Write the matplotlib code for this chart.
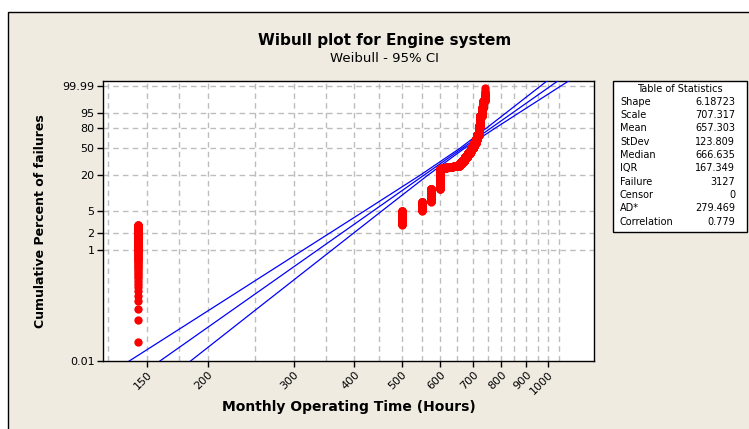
import numpy as np
import matplotlib
matplotlib.use("Agg")
import matplotlib.pyplot as plt
from matplotlib.patches import Rectangle

# ---------------- data ----------------
fail_times = [144, 500, 550, 575, 600, 605, 610, 615, 620, 625, 630, 635, 640, 645,
              650, 655, 660, 665, 670, 675, 680, 685, 690, 695, 700, 705, 710, 715,
              720, 725, 730, 735, 740]
fail_counts = [88, 68, 69, 150, 407, 25, 19, 6, 6, 9, 7, 6, 6, 6,
               10, 25, 62, 63, 78, 78, 78, 79, 93, 110, 109, 157, 172, 203,
               375, 344, 141, 56, 22]

shape = 6.18723
scale = 707.317

# 95% CI bands (percent, lower time, upper time)
ci_percent = [0.001, 0.01, 0.1, 1, 5, 20, 50, 80, 99.99, 99.9999]
ci_lower = [91.6, 138.1, 208.3, 314.1, 420.1, 545.3, 659.5, 748.0, 965.1, 1023.0]
ci_upper = [132.2, 184.5, 257.5, 359.9, 456.0, 565.3, 673.8, 780.0, 1062.4, 1142.0]

xtick_vals = [150, 200, 300, 400, 500, 600, 700, 800, 900, 1000]
xgrid_vals = [125, 150, 175, 200, 250, 300, 350, 400, 450, 500, 550, 600, 650,
              700, 750, 800, 850, 900, 950, 1000, 1050]
ytick_vals = [0.01, 1, 2, 5, 20, 50, 80, 95, 99.99]
ytick_labels = ["0.01", "1", "2", "5", "20", "50", "80", "95", "99.99"]

stat_names = ["Shape", "Scale", "Mean", "StDev", "Median", "IQR", "Failure",
              "Censor", "AD*", "Correlation"]
stat_values = ["6.18723", "707.317", "657.303", "123.809", "666.635", "167.349",
               "3127", "0", "279.469", "0.779"]

# ---------------- figure ----------------
W, H = 749, 429
bg = "#EFEBE1"
fig = plt.figure(figsize=(W / 100, H / 100), dpi=100, facecolor="white")
fig.patches.append(Rectangle((7.5 / W, -0.1), 1.2, (H - 11.5) / H + 0.1,
                             transform=fig.transFigure, facecolor=bg,
                             edgecolor="black", lw=1.0, zorder=-5))

ax = fig.add_axes([103 / W, 1 - 361 / H, (594 - 103) / W, (361 - 80.7) / H])
ax.set_facecolor("white")
ax.set_zorder(1)


def fwd(p):
    p = np.clip(np.asarray(p, dtype=float), 1e-12, 100 - 1e-10)
    return np.log(-np.log(1 - p / 100.0))


def inv(y):
    y = np.asarray(y, dtype=float)
    return 100.0 * (1 - np.exp(-np.exp(y)))


ax.set_xscale("log")
ax.set_yscale("function", functions=(fwd, inv))
ax.set_xlim(122, 1240)
ax.set_ylim(0.01, 99.9988)

# grid
for g in xgrid_vals:
    ax.axvline(g, color="#BDBDBD", lw=1.0, ls=(0, (4, 3)), zorder=1)
for g in ytick_vals[1:]:
    ax.axhline(g, color="#BDBDBD", lw=1.0, ls=(0, (4, 3)), zorder=1)

# fitted line + CI
fit_pct = np.array(ci_percent)
fit_t = scale * (-np.log(1 - fit_pct / 100.0)) ** (1 / shape)
ax.plot(fit_t, fit_pct, color="#0000FF", lw=0.9, zorder=3)
ax.plot(ci_lower, ci_percent, color="#0000FF", lw=0.9, zorder=3)
ax.plot(ci_upper, ci_percent, color="#0000FF", lw=0.9, zorder=3)

# data points with median ranks
t_all = np.repeat(fail_times, fail_counts)
n = len(t_all)
ranks = np.arange(1, n + 1)
pct = (ranks - 0.3) / (n + 0.4) * 100
ax.plot(t_all, pct, ls="none", marker="o", ms=6.0, color="#FF0000",
        mec="#FF0000", mew=0, zorder=4)

# ticks
ax.xaxis.set_minor_locator(matplotlib.ticker.NullLocator())
ax.yaxis.set_minor_locator(matplotlib.ticker.NullLocator())
ax.set_xticks(xtick_vals)
ax.set_xticklabels([str(v) for v in xtick_vals], rotation=45, ha="right",
                   rotation_mode="anchor", fontsize=8)
ax.set_yticks(ytick_vals)
ax.set_yticklabels(ytick_labels, fontsize=8)
ax.tick_params(axis="both", direction="out", length=4, width=1, color="black", pad=2)
for s in ax.spines.values():
    s.set_color("black")
    s.set_linewidth(1.0)

ax.set_xlabel("Monthly Operating Time (Hours)", fontsize=10, fontweight="bold")
ax.xaxis.set_label_coords(0.5, -(407 - 361) / (361 - 80.7))
ax.xaxis.label.set_va("center")
ax.set_ylabel("Cumulative Percent of failures", fontsize=9, fontweight="bold")
ax.yaxis.set_label_coords(-(103 - 40) / (594 - 103), 0.5)
ax.yaxis.label.set_va("center")

# titles
fig.text(384.5 / W, 1 - 41 / H, "Wibull plot for Engine system", ha="center",
         va="center", fontsize=11, fontweight="bold")
fig.text(384.5 / W, 1 - 58.5 / H, "Weibull - 95% CI", ha="center", va="center",
         fontsize=9.5)

# statistics table
x0, x1, y0, y1 = 613, 747, 81, 232
fig.patches.append(Rectangle((x0 / W, 1 - y1 / H), (x1 - x0) / W, (y1 - y0) / H,
                             transform=fig.transFigure, facecolor="white",
                             edgecolor="black", lw=1.0, zorder=2))
fig.text((x0 + x1) / 2 / W, 1 - 88.5 / H, "Table of Statistics", ha="center",
         va="center", fontsize=7, zorder=3)
for i, (nm, vl) in enumerate(zip(stat_names, stat_values)):
    yy = 101.7 + i * 13.33
    fig.text(620 / W, 1 - yy / H, nm, ha="left", va="center", fontsize=7, zorder=3)
    fig.text(735 / W, 1 - yy / H, vl, ha="right", va="center", fontsize=7, zorder=3)

fig.savefig("out.png", dpi=100, facecolor=fig.get_facecolor())
